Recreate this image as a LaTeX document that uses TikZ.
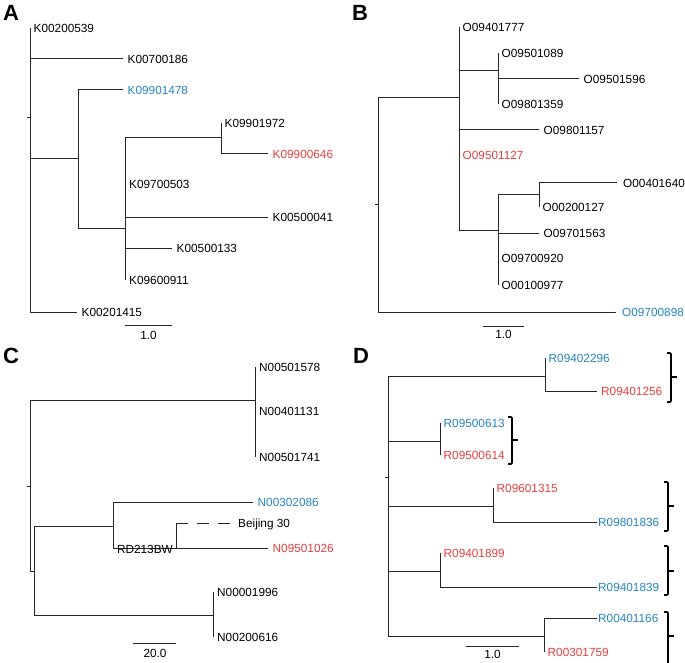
\documentclass[tikz,border=0pt]{standalone}
\usepackage{fontspec}
\setmainfont{Liberation Sans}
\definecolor{tblue}{RGB}{38,132,192}
\definecolor{tred}{RGB}{232,62,62}
\tikzset{
  br/.style={draw=black!85,line width=1pt},
  lbl/.style={anchor=west,inner sep=0pt,text height=8.6pt,text depth=0pt,font=\fontsize{11.8}{13}\selectfont},
  blbl/.style={lbl,text=tblue},
  rlbl/.style={lbl,text=tred},
  panel/.style={anchor=base west,inner sep=0pt,font=\fontsize{22}{24}\selectfont\bfseries},
  sbar/.style={draw=black!85,line width=1pt},
  slbl/.style={inner sep=0pt,font=\fontsize{11.8}{13}\selectfont},
  brace/.style={draw=black,line width=1.6pt,rounded corners=1pt},
  dashbr/.style={br,dash pattern=on 11.5pt off 9.5pt}
}
\begin{document}
\begin{tikzpicture}[x=1pt,y=-1pt]
\useasboundingbox (0,0) rectangle (685,663);
% ---------------- Panel A
\node[panel] (pA) at (3,21) {A};
\coordinate (As) at (27,118);
\coordinate (A0) at (30,118);
\coordinate (A1) at (78,159);
\coordinate (A2) at (125,228);
\coordinate (A3) at (221,138);
\coordinate (a1) at (30,28);
\coordinate (a2) at (123,59);
\coordinate (a3) at (123,90);
\coordinate (a4) at (221,123);
\coordinate (a5) at (268,154);
\coordinate (a6) at (125,184);
\coordinate (a7) at (268,217);
\coordinate (a8) at (172,248);
\coordinate (a9) at (125,280);
\coordinate (a10) at (77,312);
\draw[br] (As) -- (A0);
\draw[br] (A0) |- (a1);
\draw[br] (A0) |- (a2);
\draw[br] (A0) |- (A1);
\draw[br] (A0) |- (a10);
\draw[br] (A1) |- (a3);
\draw[br] (A1) |- (A2);
\draw[br] (A2) |- (A3);
\draw[br] (A2) |- (a6);
\draw[br] (A2) |- (a7);
\draw[br] (A2) |- (a8);
\draw[br] (A2) |- (a9);
\draw[br] (A3) |- (a4);
\draw[br] (A3) |- (a5);
\node[lbl] (la1) at ([xshift=3.5pt]a1) {K00200539};
\node[lbl] (la2) at ([xshift=4.5pt]a2) {K00700186};
\node[blbl] (la3) at ([xshift=4.5pt]a3) {K09901478};
\node[lbl] (la4) at ([xshift=3.5pt]a4) {K09901972};
\node[rlbl] (la5) at ([xshift=4.5pt]a5) {K09900646};
\node[lbl] (la6) at ([xshift=4pt]a6) {K09700503};
\node[lbl] (la7) at ([xshift=4.5pt]a7) {K00500041};
\node[lbl] (la8) at ([xshift=4.5pt]a8) {K00500133};
\node[lbl] (la9) at ([xshift=4pt]a9) {K09600911};
\node[lbl] (la10) at ([xshift=4.5pt]a10) {K00201415};
\coordinate (sAa) at (125,325);
\coordinate (sAb) at (172,325);
\draw[sbar] (sAa) -- (sAb);
\node[slbl] (sAl) at (148.5,335) {1.0};
% ---------------- Panel B
\node[panel] (pB) at (352,21) {B};
\coordinate (Bs) at (375,205);
\coordinate (B0) at (378,205);
\coordinate (B1) at (459,98);
\coordinate (B2) at (498,71);
\coordinate (B3) at (498,230);
\coordinate (B4) at (539,195);
\coordinate (b1) at (459,27);
\coordinate (b2) at (498,53);
\coordinate (b3) at (579,79);
\coordinate (b4) at (498,104);
\coordinate (b5) at (539,130);
\coordinate (b6) at (459,155);
\coordinate (b7) at (617,183);
\coordinate (b8) at (539,207);
\coordinate (b9) at (539,233);
\coordinate (b10) at (498,258);
\coordinate (b11) at (498,285);
\coordinate (b12) at (616,312);
\draw[br] (Bs) -- (B0);
\draw[br] (B0) |- (B1);
\draw[br] (B0) |- (b12);
\draw[br] (B1) |- (b1);
\draw[br] (B1) |- (B2);
\draw[br] (B1) |- (b5);
\draw[br] (B1) |- (b6);
\draw[br] (B1) |- (B3);
\draw[br] (B2) |- (b2);
\draw[br] (B2) |- (b3);
\draw[br] (B2) |- (b4);
\draw[br] (B3) |- (B4);
\draw[br] (B3) |- (b9);
\draw[br] (B3) |- (b10);
\draw[br] (B3) |- (b11);
\draw[br] (B4) |- (b7);
\draw[br] (B4) |- (b8);
\node[lbl] (lb1) at ([xshift=3.5pt]b1) {O09401777};
\node[lbl] (lb2) at ([xshift=3.5pt]b2) {O09501089};
\node[lbl] (lb3) at ([xshift=4.5pt]b3) {O09501596};
\node[lbl] (lb4) at ([xshift=3.5pt]b4) {O09801359};
\node[lbl] (lb5) at ([xshift=4.5pt]b5) {O09801157};
\node[rlbl] (lb6) at ([xshift=3.5pt]b6) {O09501127};
\node[lbl] (lb7) at ([xshift=6pt]b7) {O00401640};
\node[lbl] (lb8) at ([xshift=3.5pt]b8) {O00200127};
\node[lbl] (lb9) at ([xshift=4.5pt]b9) {O09701563};
\node[lbl] (lb10) at ([xshift=3.5pt]b10) {O09700920};
\node[lbl] (lb11) at ([xshift=3.5pt]b11) {O00100977};
\node[blbl] (lb12) at ([xshift=6pt]b12) {O09700898};
\coordinate (sBa) at (483,326);
\coordinate (sBb) at (524,326);
\draw[sbar] (sBa) -- (sBb);
\node[slbl] (sBl) at (503.5,334) {1.0};
% ---------------- Panel C
\node[panel] (pC) at (3,363) {C};
\coordinate (Cs) at (27,486);
\coordinate (C0) at (30,486);
\coordinate (C1) at (255,400);
\coordinate (C2) at (34,571);
\coordinate (C3) at (113,526);
\coordinate (C4) at (213,615);
\coordinate (C5) at (176,548);
\coordinate (Cb) at (176,523);
\coordinate (c1) at (255,367);
\coordinate (c2) at (255,411);
\coordinate (c3) at (255,457);
\coordinate (c4) at (253,502);
\coordinate (c5) at (230,523);
\coordinate (c6) at (268,548);
\coordinate (c7) at (213,592);
\coordinate (c8) at (213,637);
\draw[br] (Cs) -- (C0);
\draw[br] (C0) |- (C1);
\draw[br] (C0) |- (C2);
\draw[br] (C1) |- (c1);
\draw[br] (C1) |- (c2);
\draw[br] (C1) |- (c3);
\draw[br] (C2) |- (C3);
\draw[br] (C2) |- (C4);
\draw[br] (C3) |- (c4);
\draw[br] (C3) |- (C5);
\draw[br] (C5) -- (Cb);
\draw[dashbr] (Cb) -- (c5);
\draw[br] (C5) -- (c6);
\draw[br] (C4) |- (c7);
\draw[br] (C4) |- (c8);
\node[lbl] (lc1) at ([xshift=4pt]c1) {N00501578};
\node[lbl] (lc2) at ([xshift=4pt]c2) {N00401131};
\node[lbl] (lc3) at ([xshift=4pt]c3) {N00501741};
\node[blbl] (lc4) at ([xshift=4.5pt]c4) {N00302086};
\node[lbl] (lc5) at ([xshift=8pt]c5) {Beijing 30};
\node[rlbl] (lc6) at ([xshift=4.5pt]c6) {N09501026};
\node[lbl] (lc7) at ([xshift=4pt]c7) {N00001996};
\node[lbl] (lc8) at ([xshift=4pt]c8) {N00200616};
\node[anchor=base east,inner sep=0pt,font=\fontsize{11.8}{13}\selectfont] (lrd) at ([xshift=-3pt,yshift=-5pt]C5) {RD213BW};
\coordinate (sCa) at (133,643);
\coordinate (sCb) at (176,643);
\draw[sbar] (sCa) -- (sCb);
\node[slbl] (sCl) at (155,653) {20.0};
% ---------------- Panel D
\node[panel] (pD) at (353,363) {D};
\coordinate (Ds) at (385,477);
\coordinate (D0) at (388,477);
\coordinate (D1) at (545,376);
\coordinate (D2) at (440,441);
\coordinate (D3) at (493,506);
\coordinate (D4) at (440,571);
\coordinate (D5) at (544,636);
\coordinate (d1) at (545,358);
\coordinate (d2) at (597,391);
\coordinate (d3) at (440,423);
\coordinate (d4) at (440,455);
\coordinate (d5) at (493,488);
\coordinate (d6) at (597,522);
\coordinate (d7) at (440,553);
\coordinate (d8) at (597,587);
\coordinate (d9) at (597,618);
\coordinate (d10) at (544,652);
\draw[br] (Ds) -- (D0);
\draw[br] (D0) |- (D1);
\draw[br] (D0) |- (D2);
\draw[br] (D0) |- (D3);
\draw[br] (D0) |- (D4);
\draw[br] (D0) |- (D5);
\draw[br] (D1) |- (d1);
\draw[br] (D1) |- (d2);
\draw[br] (D2) |- (d3);
\draw[br] (D2) |- (d4);
\draw[br] (D3) |- (d5);
\draw[br] (D3) |- (d6);
\draw[br] (D4) |- (d7);
\draw[br] (D4) |- (d8);
\draw[br] (D5) |- (d9);
\draw[br] (D5) |- (d10);
\node[blbl] (ld1) at ([xshift=3.5pt]d1) {R09402296};
\node[rlbl] (ld2) at ([xshift=4pt]d2) {R09401256};
\node[blbl] (ld3) at ([xshift=3.5pt]d3) {R09500613};
\node[rlbl] (ld4) at ([xshift=3.5pt]d4) {R09500614};
\node[rlbl] (ld5) at ([xshift=3.5pt]d5) {R09601315};
\node[blbl] (ld6) at ([xshift=1pt]d6) {R09801836};
\node[rlbl] (ld7) at ([xshift=3.5pt]d7) {R09401899};
\node[blbl] (ld8) at ([xshift=1pt]d8) {R09401839};
\node[blbl] (ld9) at ([xshift=1pt]d9) {R00401166};
\node[rlbl] (ld10) at ([xshift=3.5pt]d10) {R00301759};
\coordinate (sDa) at (466,646);
\coordinate (sDb) at (519,646);
\draw[sbar] (sDa) -- (sDb);
\node[slbl] (sDl) at (492.5,654) {1.0};
% brackets
\draw[brace] (667,353) -- (671,353) -- (671,402) -- (667,402);
\draw[brace] (671,377) -- (677,377);
\draw[brace] (508,417) -- (512,417) -- (512,464) -- (508,464);
\draw[brace] (512,440) -- (518,440);
\draw[brace] (664,482) -- (668,482) -- (668,531) -- (664,531);
\draw[brace] (668,506) -- (674,506);
\draw[brace] (664,546) -- (668,546) -- (668,595) -- (664,595);
\draw[brace] (668,571) -- (674,571);
\draw[brace] (664,612) -- (668,612) -- (668,668);
\draw[brace] (668,636) -- (674,636);
\end{tikzpicture}
\end{document}
